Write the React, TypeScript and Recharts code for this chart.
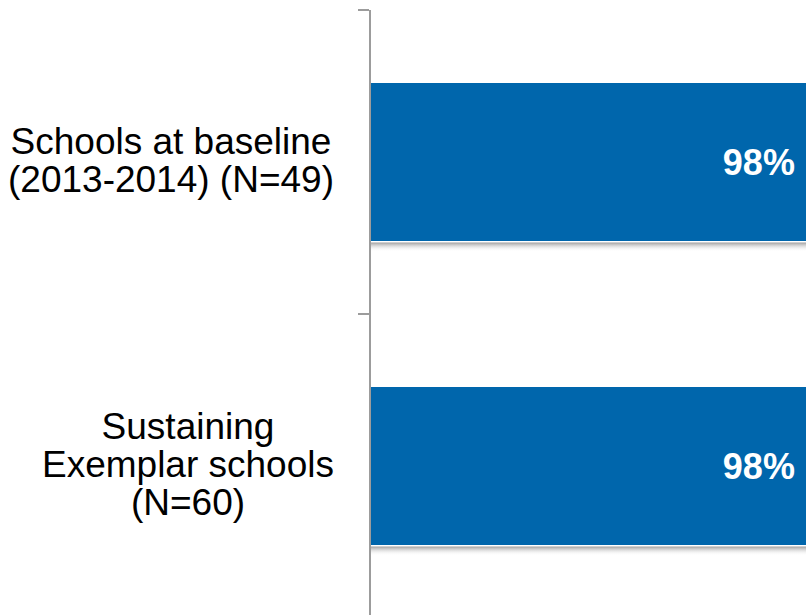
import React from "react";
import { BarChart, Bar, XAxis, YAxis, LabelList } from "recharts";

const categories = [
  "Schools at baseline\n(2013-2014) (N=49)",
  "Sustaining\nExemplar schools\n(N=60)",
];
const percentValues = [98, 98];

const data = categories.map((name, i) => ({ name, value: percentValues[i] }));

const FONT = "'Liberation Sans', Arial, sans-serif";
const AXIS_GRAY = "#9c9c9c";
const BAR_BLUE = "#0066ac";

const CHART_W = 850;
const CHART_H = 640;
const MARGIN = { top: 10, right: 26, bottom: 22, left: 0 };
const AXIS_W = 370;
const BAND = (CHART_H - MARGIN.top - MARGIN.bottom) / categories.length;

let ctx: CanvasRenderingContext2D | null = null;
function measure(text: string, font: string): number {
  if (!ctx) {
    const c = document.createElement("canvas");
    ctx = c.getContext("2d");
  }
  if (!ctx) return text.length * 18;
  ctx.font = font;
  return ctx.measureText(text).width;
}

const CatTick = (props: any) => {
  const { x, y, payload } = props;
  const lines: string[] = String(payload.value).split("\n");
  const fs = 37;
  const lh = 38;
  const widths = lines.map((l) => measure(l, `${fs}px 'Liberation Sans'`));
  const blockW = Math.max(...widths);
  const right = x - 28;
  const cx = right - blockW / 2;
  const first = y - ((lines.length - 1) * lh) / 2 + 11;
  const axisX = MARGIN.left + AXIS_W - 1;
  return (
    <g>
      <line x1={axisX - 11} x2={axisX} y1={y - BAND / 2} y2={y - BAND / 2} stroke={AXIS_GRAY} strokeWidth={2} />
      <line x1={axisX - 11} x2={axisX} y1={y + BAND / 2} y2={y + BAND / 2} stroke={AXIS_GRAY} strokeWidth={2} />
      {lines.map((l, i) => (
        <text
          key={i}
          x={cx}
          y={first + i * lh}
          textAnchor="middle"
          fontFamily={FONT}
          fontSize={fs}
          fill="#000"
        >
          {l}
        </text>
      ))}
    </g>
  );
};

const BarShape = (props: any) => {
  const { x, y, width, height, fill } = props;
  return (
    <g>
      <rect x={x + 1} y={y + height + 1.5} width={width} height={9} fill="url(#barShadow)" />
      <rect x={x + 1} y={y} width={width} height={height} fill={fill} />
    </g>
  );
};

const ValueLabel = (props: any) => {
  const { x, y, width, height, value } = props;
  return (
    <text
      x={x + width - 20}
      y={y + height / 2 + 13}
      textAnchor="end"
      fontFamily={FONT}
      fontWeight="bold"
      fontSize={36}
      fill="#ffffff"
    >
      {`${value}%`}
    </text>
  );
};

export default function App() {
  return (
    <div
      style={{
        position: "fixed",
        left: 0,
        top: 0,
        width: 806,
        height: 615,
        overflow: "hidden",
        background: "#fff",
      }}
    >
      <BarChart
        layout="vertical"
        width={CHART_W}
        height={CHART_H}
        data={data}
        margin={MARGIN}
        barCategoryGap={0}
      >
        <defs>
          <linearGradient id="barShadow" x1="0" y1="0" x2="0" y2="1">
            <stop offset="0%" stopColor="#9a9a9a" stopOpacity={0.95} />
            <stop offset="100%" stopColor="#ffffff" stopOpacity={0} />
          </linearGradient>
        </defs>
        <XAxis type="number" domain={[0, 100]} hide />
        <YAxis
          type="category"
          dataKey="name"
          width={AXIS_W}
          axisLine={{ stroke: AXIS_GRAY, strokeWidth: 2 }}
          tickLine={false}
          tick={<CatTick />}
          interval={0}
        />
        <Bar
          dataKey="value"
          fill={BAR_BLUE}
          barSize={158}
          isAnimationActive={false}
          shape={<BarShape />}
        >
          <LabelList dataKey="value" content={<ValueLabel />} />
        </Bar>
      </BarChart>
    </div>
  );
}
